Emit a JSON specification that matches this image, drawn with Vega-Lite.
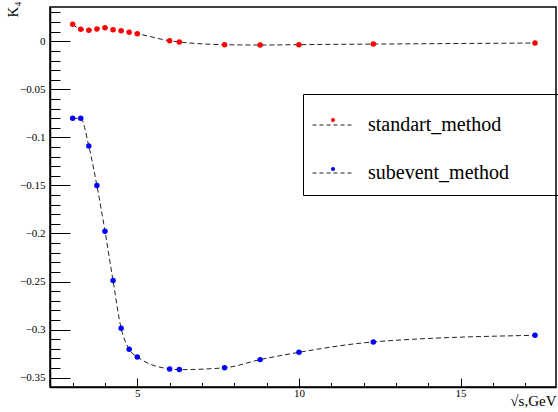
{
  "$schema": "https://vega.github.io/schema/vega-lite/v6.json",
  "width": 506,
  "height": 380,
  "autosize": {"type": "none"},
  "padding": {"left": 50, "top": 7, "right": 2, "bottom": 25},
  "background": "white",
  "config": {
    "view": {"stroke": "#000", "strokeWidth": 1.5},
    "font": "Liberation Serif",
    "axis": {"labelFont": "Liberation Serif", "titleFont": "Liberation Serif"},
    "legend": {"labelFont": "Liberation Serif", "titleFont": "Liberation Serif"}
  },
  "data": {"values": [
    {"series": "standart_method", "x": 3.0, "y": 0.0177},
    {"series": "standart_method", "x": 3.25, "y": 0.0125},
    {"series": "standart_method", "x": 3.5, "y": 0.0115},
    {"series": "standart_method", "x": 3.75, "y": 0.0128},
    {"series": "standart_method", "x": 4.0, "y": 0.0142},
    {"series": "standart_method", "x": 4.25, "y": 0.0121},
    {"series": "standart_method", "x": 4.5, "y": 0.011},
    {"series": "standart_method", "x": 4.75, "y": 0.0094},
    {"series": "standart_method", "x": 5.0, "y": 0.0079},
    {"series": "standart_method", "x": 6.0, "y": 0.0006},
    {"series": "standart_method", "x": 6.3, "y": -0.0007},
    {"series": "standart_method", "x": 7.7, "y": -0.0035},
    {"series": "standart_method", "x": 8.8, "y": -0.0039},
    {"series": "standart_method", "x": 10.0, "y": -0.0035},
    {"series": "standart_method", "x": 12.3, "y": -0.0029},
    {"series": "standart_method", "x": 17.3, "y": -0.0018},
    {"series": "subevent_method", "x": 3.0, "y": -0.0802},
    {"series": "subevent_method", "x": 3.25, "y": -0.0802},
    {"series": "subevent_method", "x": 3.5, "y": -0.109},
    {"series": "subevent_method", "x": 3.75, "y": -0.150},
    {"series": "subevent_method", "x": 4.0, "y": -0.1976},
    {"series": "subevent_method", "x": 4.25, "y": -0.249},
    {"series": "subevent_method", "x": 4.5, "y": -0.2986},
    {"series": "subevent_method", "x": 4.75, "y": -0.3205},
    {"series": "subevent_method", "x": 5.0, "y": -0.3285},
    {"series": "subevent_method", "x": 6.0, "y": -0.341},
    {"series": "subevent_method", "x": 6.3, "y": -0.3417},
    {"series": "subevent_method", "x": 7.7, "y": -0.3398},
    {"series": "subevent_method", "x": 8.8, "y": -0.3313},
    {"series": "subevent_method", "x": 10.0, "y": -0.3237},
    {"series": "subevent_method", "x": 12.3, "y": -0.3129},
    {"series": "subevent_method", "x": 17.3, "y": -0.306}
  ]},
  "resolve": {"axis": {"x": "independent", "y": "independent"}},
  "layer": [
    {
      "mark": {"type": "line", "strokeDash": [5, 3], "strokeWidth": 1, "interpolate": "monotone"},
      "encoding": {
        "x": {
          "field": "x", "type": "quantitative",
          "scale": {"domain": [2.3, 17.95], "nice": false, "zero": false},
          "axis": {
            "orient": "bottom",
            "values": [5, 10, 15],
            "tickSize": -9,
            "labelPadding": 9, "labelFontSize": 11, "labelColor": "#000",
            "labelFlush": false, "labelOverlap": false,
            "tickColor": "#000", "tickWidth": 1,
            "domainColor": "#000", "domainWidth": 1.5, "grid": false,
            "title": "√s,GeV", "titleFontSize": 15, "titleFontWeight": "normal", "titleColor": "#000",
            "titleAnchor": "end", "titleAlign": "right", "titleX": 506, "titleY": 18, "titleBaseline": "alphabetic"
          }
        },
        "y": {
          "field": "y", "type": "quantitative",
          "scale": {"domain": [-0.3598, 0.0357], "nice": false, "zero": false},
          "axis": {
            "orient": "left",
            "values": [-0.35, -0.3, -0.25, -0.2, -0.15, -0.1, -0.05, 0],
            "tickSize": -20,
            "format": ".2~f",
            "labelPadding": 25, "labelFontSize": 11, "labelColor": "#000",
            "labelFlush": false, "labelOverlap": false,
            "tickColor": "#000", "tickWidth": 1,
            "domainColor": "#000", "domainWidth": 1.5, "grid": false,
            "title": "K₄", "titleFontSize": 15, "titleFontWeight": "normal", "titleColor": "#000",
            "titleAngle": -90, "titleAnchor": "end", "titleAlign": "right", "titleX": -33, "titleY": -6, "titleBaseline": "alphabetic"
          }
        },
        "stroke": {
          "field": "series", "type": "nominal",
          "scale": {"domain": ["standart_method", "subevent_method"], "range": ["#222222", "#222222"]},
          "legend": {
            "orient": "none", "legendX": 253, "legendY": 86, "title": null,
            "symbolType": "stroke", "symbolSize": 1681, "symbolDash": [4, 3], "symbolStrokeWidth": 1,
            "symbolOffset": -2, "padding": 11, "rowPadding": 17, "labelOffset": 14,
            "labelFontSize": 20, "labelColor": "#000", "labelLimit": 400
          }
        }
      }
    },
    {
      "mark": {"type": "point", "filled": true, "shape": "circle", "size": 30, "opacity": 1, "strokeWidth": 0},
      "encoding": {
        "x": {
          "field": "x", "type": "quantitative",
          "axis": {
            "orient": "bottom",
            "values": [3, 4, 6, 7, 8, 9, 11, 12, 13, 14, 16, 17],
            "tickSize": -4.5, "tickColor": "#000", "tickWidth": 1,
            "labels": false, "domain": false, "grid": false, "title": null
          }
        },
        "y": {
          "field": "y", "type": "quantitative",
          "axis": {
            "orient": "left",
            "values": [-0.34, -0.33, -0.32, -0.31, -0.29, -0.28, -0.27, -0.26, -0.24, -0.23, -0.22, -0.21, -0.19, -0.18, -0.17, -0.16, -0.14, -0.13, -0.12, -0.11, -0.09, -0.08, -0.07, -0.06, -0.04, -0.03, -0.02, -0.01, 0.01, 0.02, 0.03],
            "tickSize": -10, "tickColor": "#000", "tickWidth": 1,
            "labels": false, "domain": false, "grid": false, "title": null
          }
        },
        "fill": {
          "field": "series", "type": "nominal",
          "scale": {"range": ["#ff0000", "#0000ff"]},
          "legend": {
            "orient": "none", "legendX": 253, "legendY": 87, "title": null,
            "symbolType": "circle", "symbolSize": 18, "symbolStrokeWidth": 0, "symbolOpacity": 1,
            "symbolOffset": 4, "padding": 16, "rowPadding": 29, "labelOffset": 70,
            "labelFontSize": 20, "labelColor": "transparent", "labelLimit": 400,
            "strokeColor": "#000"
          }
        }
      }
    }
  ]
}
